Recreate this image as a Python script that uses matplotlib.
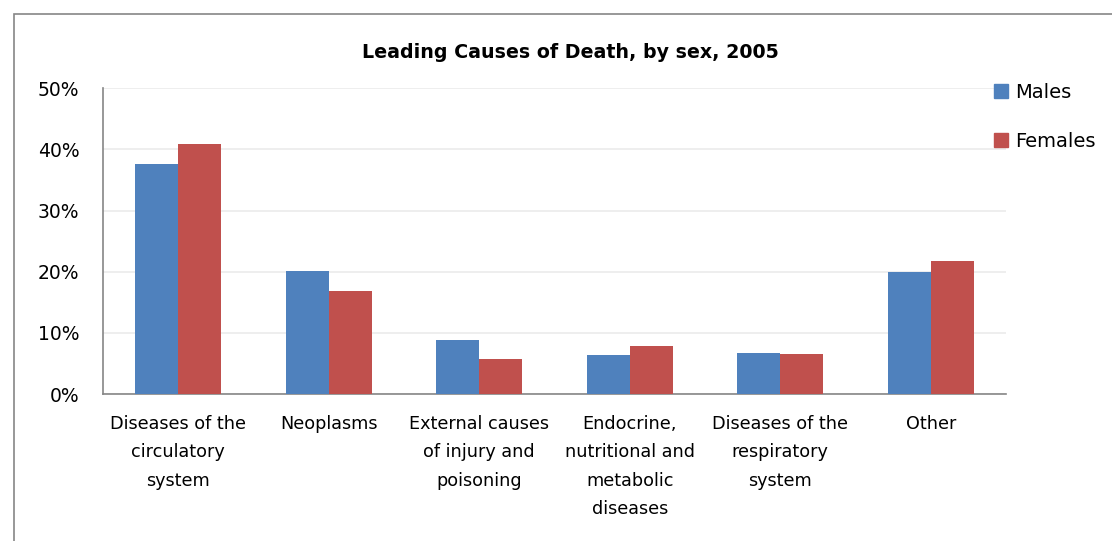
import numpy as np
import matplotlib.pyplot as plt
from matplotlib.patches import Rectangle, Patch

# Category labels and shares of deaths (%)
categories = ['Diseases of the\ncirculatory\nsystem', 'Neoplasms',
              'External causes\nof injury and\npoisoning',
              'Endocrine,\nnutritional and\nmetabolic\ndiseases',
              'Diseases of the\nrespiratory\nsystem', 'Other']
males = [37.6, 20.1, 8.9, 6.3, 6.7, 19.9]
females = [40.9, 16.9, 5.8, 7.9, 6.5, 21.7]
yticks = [0, 10, 20, 30, 40, 50]

male_color = '#4F81BD'
female_color = '#C0504D'

plt.rcParams['font.family'] = ['DejaVu Sans']

fig = plt.figure(figsize=(11.12, 5.41), dpi=100)
# outer chart border
fig.patches.append(Rectangle((14 / 1112, -0.1), 1.2, 1 - 14 / 541 + 0.1,
                             transform=fig.transFigure, fill=False,
                             edgecolor='#868686', linewidth=1.2))

ax = fig.add_axes([103 / 1112, 1 - 394 / 541, (1006 - 103) / 1112, (394 - 88.3) / 541])

x = np.arange(len(categories))
w = 0.286
ax.bar(x - w / 2, males, w, color=male_color, label='Males', zorder=3)
ax.bar(x + w / 2, females, w, color=female_color, label='Females', zorder=3)

ax.set_xlim(-0.5, len(categories) - 0.5)
ax.set_ylim(0, 50)
ax.set_yticks(yticks)
ax.set_yticklabels([f'{t}%' for t in yticks])
ax.set_xticks(x)
ax.set_xticklabels(categories, linespacing=1.75, va='top')
ax.tick_params(axis='both', length=0, labelsize=12.7, colors='black')
ax.tick_params(axis='y', labelsize=13.5, pad=17)
ax.tick_params(axis='x', pad=15)
ax.grid(axis='y', color='#EBEBEB', linewidth=1.2, zorder=0)

for side in ['top', 'right']:
    ax.spines[side].set_visible(False)
for side in ['left', 'bottom']:
    ax.spines[side].set_color('#868686')
    ax.spines[side].set_linewidth(1.2)

fig.text(570 / 1112, 1 - 52 / 541, 'Leading Causes of Death, by sex, 2005',
         ha='center', va='center', fontsize=13.7, fontweight='bold')

handles = [Patch(color=male_color), Patch(color=female_color)]
fig.legend(handles, ['Males', 'Females'], loc='upper left',
           bbox_to_anchor=(986 / 1112, 1 - 75 / 541), frameon=False,
           fontsize=14, handlelength=0.75, handleheight=0.75,
           handletextpad=0.35, labelspacing=1.55, borderaxespad=0)

fig.savefig('out.png', dpi=100)
